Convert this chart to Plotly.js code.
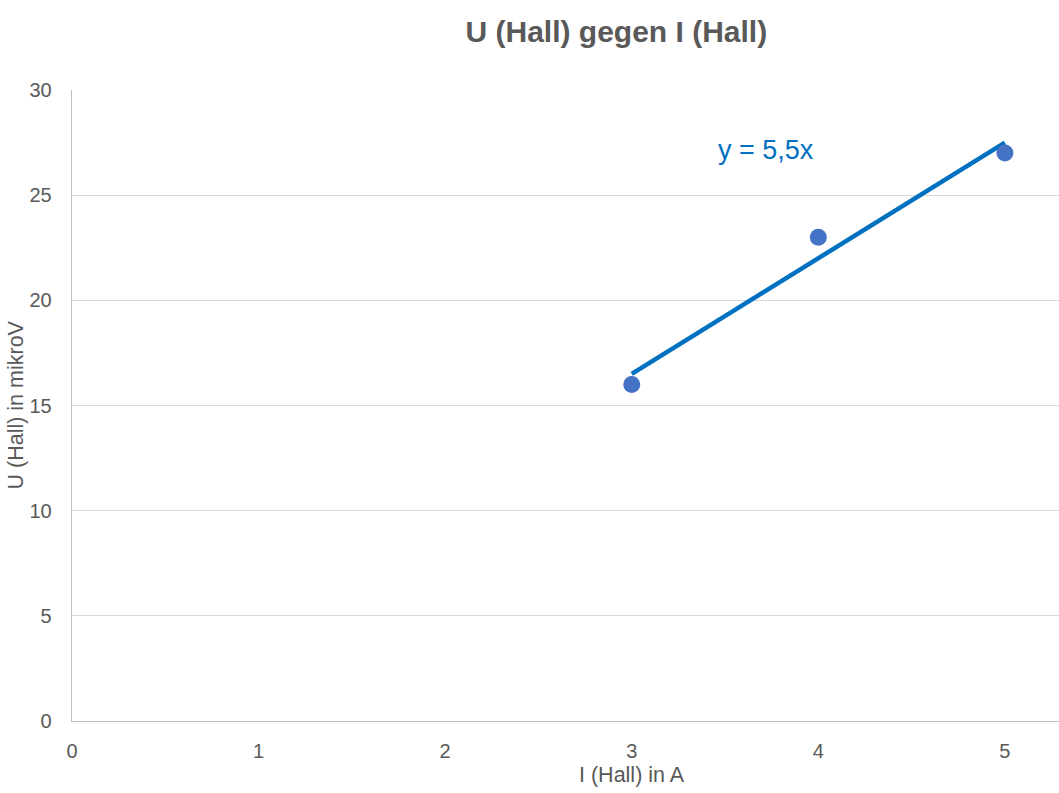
<!DOCTYPE html>
<html>
<head>
<meta charset="utf-8">
<script src="https://cdn.plot.ly/plotly-3.0.1.min.js"></script>
<style>html,body{margin:0;padding:0;background:#fff;}#chart{width:1059px;height:793px;}</style>
</head>
<body>
<div id="chart"></div>
<script>
const currentA = [3, 4, 5];
const hallVoltage = [16, 23, 27];
const slope = 5.5;
const trendX = [3, 5];
const trendY = trendX.map(x => slope * x);
const xTicks = [0, 1, 2, 3, 4, 5];
const yTicks = [0, 5, 10, 15, 20, 25, 30];

const traces = [
  {
    x: trendX, y: trendY, type: 'scatter', mode: 'lines',
    line: {color: '#0070C0', width: 4.5}, hoverinfo: 'skip', showlegend: false
  },
  {
    x: currentA, y: hallVoltage, type: 'scatter', mode: 'markers',
    marker: {color: '#4472C4', size: 17}, showlegend: false, cliponaxis: false
  }
];

const font = '"Liberation Sans", Arial, sans-serif';
const layout = {
  width: 1059, height: 793,
  margin: {l: 72, r: 0, t: 90, b: 72},
  paper_bgcolor: '#fff', plot_bgcolor: '#fff',
  font: {family: font, color: '#595959'},
  title: {
    text: '<b>U (Hall) gegen I (Hall)</b>',
    font: {size: 30, color: '#595959'},
    x: 0.582, xanchor: 'center', y: 0.96, yanchor: 'middle'
  },
  xaxis: {
    range: [0, 5.29], tickvals: xTicks, ticktext: xTicks.map(String),
    showgrid: false, zeroline: false, showline: true, linecolor: '#BFBFBF', linewidth: 1.3,
    ticks: 'outside', ticklen: 12, tickcolor: 'rgba(0,0,0,0)',
    tickfont: {size: 20, color: '#595959'}
  },
  yaxis: {
    range: [0, 30], tickvals: yTicks, ticktext: yTicks.map(String),
    showgrid: true, gridcolor: '#D9D9D9', gridwidth: 1,
    zeroline: false, showline: true, linecolor: '#BFBFBF', linewidth: 1.3,
    ticks: 'outside', ticklen: 15, tickcolor: 'rgba(0,0,0,0)',
    tickfont: {size: 20, color: '#595959'}
  },
  annotations: [
    {
      x: 3.72, y: 27.15, xref: 'x', yref: 'y', text: 'y = 5,5x', showarrow: false,
      font: {size: 27, color: '#0070C0'}, xanchor: 'center', yanchor: 'middle'
    },
    {
      x: 632, y: 18, xref: 'paper', yref: 'paper', text: 'I (Hall) in A', showarrow: false,
      font: {size: 21.5, color: '#595959'}, xanchor: 'center', yanchor: 'middle'
    },
    {
      x: 15, y: 0.5, xref: 'paper', yref: 'paper', text: 'U (Hall) in mikroV', showarrow: false,
      textangle: -90, font: {size: 21.5, color: '#595959'}, xanchor: 'center', yanchor: 'middle'
    }
  ]
};
// convert pixel positions of axis-title annotations to paper fractions
const plotW = layout.width - layout.margin.l - layout.margin.r;
const plotH = layout.height - layout.margin.t - layout.margin.b;
layout.annotations[1].x = (632 - layout.margin.l) / plotW;
layout.annotations[1].y = -(775 - (layout.height - layout.margin.b)) / plotH;
layout.annotations[2].x = (15 - layout.margin.l) / plotW;

Plotly.newPlot('chart', traces, layout, {displayModeBar: false, staticPlot: true});
</script>
</body>
</html>
